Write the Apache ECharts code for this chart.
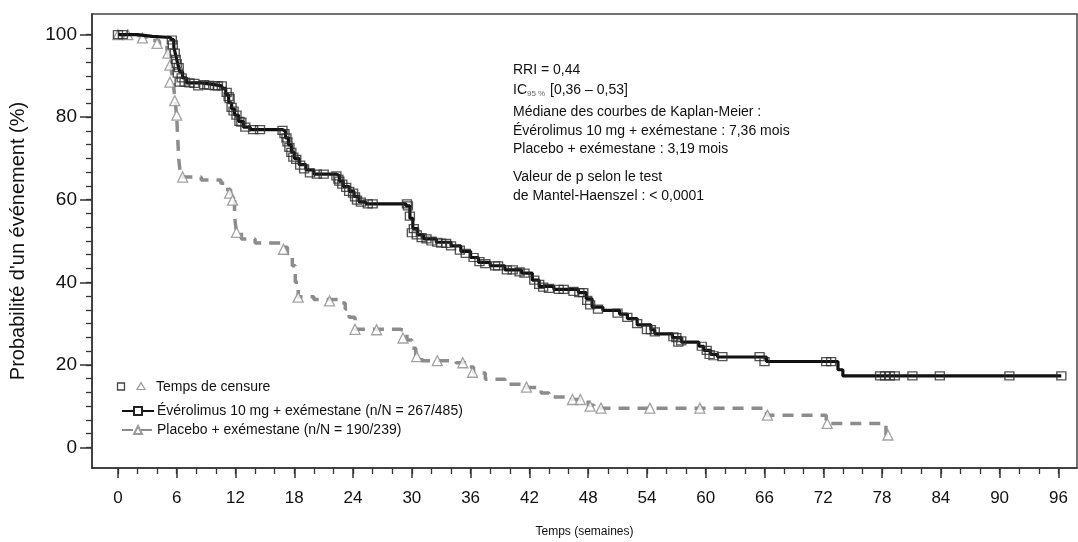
<!DOCTYPE html>
<html><head><meta charset="utf-8">
<script src="https://cdn.jsdelivr.net/npm/echarts@6/dist/echarts.min.js"></script>
<style>html,body{margin:0;padding:0;background:#fff}#c{width:1078px;height:542px}</style>
</head><body><div id="c"></div>
<script>
// ---- data ----
const xTicks = [0, 6, 12, 18, 24, 30, 36, 42, 48, 54, 60, 66, 72, 78, 84, 90, 96];
const xMinorTicks = [0, 2, 4, 6, 8, 10, 12, 14, 16, 18, 20, 22, 24, 26, 28, 30, 32, 34, 36, 38, 40, 42, 44, 46, 48, 50, 52, 54, 56, 58, 60, 62, 64, 66, 68, 70, 72, 74, 76, 78, 80, 82, 84, 86, 88, 90, 92, 94, 96];
const yTicks = [0, 20, 40, 60, 80, 100];
const yMinorTicks = [0, 3.33, 6.67, 10, 13.33, 16.67, 20, 23.33, 26.67, 30, 33.33, 36.67, 40, 43.33, 46.67, 50, 53.33, 56.67, 60, 63.33, 66.67, 70, 73.33, 76.67, 80, 83.33, 86.67, 90, 93.33, 96.67, 100];

const everoName = 'Évérolimus 10 mg + exémestane (n/N = 267/485)';
const placeboName = 'Placebo + exémestane (n/N = 190/239)';

// Kaplan-Meier steps [week, %]
const everoCurve = [[0,100],[2,99.6],[3.5,99.3],[5.4,98.8],[5.7,97],[5.9,95],[6.1,93],[6.3,91],[6.6,89.5],[7,88.3],[8.5,88],[9.5,87.6],[10.6,87],[11,85.5],[11.3,83.5],[11.6,82],[11.9,80.5],[12.3,79],[12.8,77.6],[13.5,77],[16.8,76.6],[17.1,75],[17.4,73.3],[17.7,71.5],[18,70],[18.5,68.5],[19.2,67.2],[20,66.2],[22.3,65.8],[22.6,64.5],[23,63.2],[23.6,62],[24.1,60.8],[24.6,59.5],[25.3,59],[29.4,58.5],[29.8,55.5],[30.1,53],[30.6,51.5],[31.2,50.5],[32.5,49.7],[34,48.8],[35,47.5],[36,46],[36.8,44.8],[38,44],[39.5,43],[41.2,42.2],[42.3,40.5],[43,39],[44.5,38.3],[47,37.5],[47.8,36],[48.4,34],[49.5,33.2],[51.2,32.3],[52,31.2],[53,29.7],[54.4,28.5],[54.8,27.5],[56.6,26.6],[57.5,25.5],[59.3,24.5],[59.8,23.5],[60.5,22.5],[61.2,21.9],[66.2,20.8],[73.5,18.8],[74,17.3],[96.3,17.3]];
const placeboCurve = [[0,100],[1.5,99.6],[2.5,99.2],[3.5,98.6],[4.2,97.9],[5,96.5],[5.2,94.5],[5.4,92],[5.6,89],[5.8,85],[6,80],[6.1,75],[6.2,70],[6.4,65.5],[8.5,64.8],[10.5,64],[11,62.5],[11.5,60],[11.9,56],[12.1,52],[12.6,50.5],[14,49.5],[16.8,48.5],[17.3,47],[17.8,44],[18.1,40],[18.4,36.5],[20,35.8],[22.5,35],[23.2,33.5],[23.6,31.5],[24.2,28.6],[28.8,28.2],[29.5,26],[30,24],[30.4,22],[31,21],[34.5,20.5],[35.8,19.5],[36.3,18],[37.5,16.5],[39.5,15.3],[41.5,14.5],[43.2,13.2],[44,12.2],[46.3,11.6],[48,10.2],[48.6,9.5],[66.2,7.8],[72.3,5.8],[78.4,3],[78.6,3]];

// censoring times [week, %]
const everoCensor = [[0,100],[0.5,100],[5.5,98.7],[5.6,97.5],[5.8,95.5],[5.9,94],[6,93],[6.1,90.7],[6.2,92],[6.3,88.5],[6.5,89.5],[6.8,88.5],[7.3,88.3],[7.8,88.2],[8.2,87.6],[8.8,87.9],[9.3,87.7],[9.9,87.6],[10.2,87.6],[10.6,87.6],[11.1,86],[11.3,85],[11.4,84.5],[11.6,82.4],[11.8,81.5],[12.1,80.5],[12.4,79],[12.6,78.8],[13,77.6],[13.8,77],[14.5,77],[16.8,76.8],[17,76],[17.2,75],[17.3,74],[17.5,72.7],[17.7,71.5],[17.9,70.3],[18.2,69.8],[18.6,68.4],[19,67.5],[19.6,66.5],[20.3,66.2],[21,66.2],[22.3,65.8],[22.5,65],[22.6,64.5],[22.9,63.8],[23.3,63],[23.6,62],[24,61.6],[24.2,60.7],[24.4,59.9],[24.8,59.4],[25.5,59],[26,59],[29.5,59],[29.6,58.5],[29.8,56],[30,52],[30.2,53],[30.5,51.5],[31,50.8],[31.5,50.5],[32,50],[32.6,49.7],[33,49.5],[33.5,49.4],[34,48.8],[34.9,47.8],[35.5,47],[36.3,46],[36.9,45],[37.5,44.5],[38.5,44],[38.8,44],[39.7,43],[40.3,43],[41,42.5],[41.5,42.2],[42.5,40.5],[43,39.5],[43.4,38.8],[44,38.5],[45,38.3],[45.5,38.3],[46.5,37.8],[47.1,37.5],[47.5,37.5],[47.9,35.6],[48.2,34.5],[49,33.5],[51,32.5],[52,31.5],[53,30],[54,28.5],[54.4,28.5],[54.8,28],[56.7,26.8],[57,26.6],[57.2,25.5],[57.5,25.8],[59.6,24.5],[60.1,23.5],[60.4,22.5],[60.8,22.2],[61.7,22],[65.5,22],[66,20.8],[72.3,20.8],[72.8,20.8],[77.8,17.3],[78.3,17.3],[78.8,17.3],[79.3,17.3],[81.1,17.3],[83.9,17.3],[91,17.3],[96.3,17.3]];
const placeboCensor = [[0,100],[1,100],[2.5,99.2],[4,97.9],[5.1,95.5],[5.3,92.6],[5.3,88.5],[5.8,84],[6,80.5],[6.6,65.5],[11.4,61.6],[11.7,59.9],[12.1,52.1],[16.9,48],[18.4,36.4],[21.6,35.5],[24.2,28.6],[26.4,28.5],[29.1,26.5],[30.5,22],[32.6,21],[35.2,20.5],[36.2,18.2],[41.7,14.6],[46.4,11.6],[47.2,11.6],[48.2,10],[49.3,9.5],[54.3,9.5],[59.4,9.5],[66.3,7.8],[72.4,5.8],[78.6,3]];

const annotation = [
  'RRI = 0,44',
  'Médiane des courbes de Kaplan-Meier :',
  'Évérolimus 10 mg + exémestane : 7,36 mois',
  'Placebo + exémestane : 3,19 mois',
  'Valeur de p selon le test',
  'de Mantel-Haenszel : < 0,0001'
];

// ---- chart ----
const FONT = '"Liberation Sans", Arial, sans-serif';
const chart = echarts.init(document.getElementById('c'), null, {renderer: 'canvas'});
const axisColor = '#333';
const xBase = {type: 'value', min: -2.65, max: 97.9, position: 'bottom', splitLine: {show: false}};
const yBase = {type: 'value', min: -5, max: 105, position: 'left', splitLine: {show: false}};

const txt = (x, y, text, size, color) => ({
  type: 'text', x: x, y: y, silent: true,
  style: {text: text, font: size + 'px ' + FONT, fill: color || '#111', verticalAlign: 'middle', align: 'left'}
});

chart.setOption({
  animation: false,
  backgroundColor: '#fff',
  grid: {left: 92, top: 14, right: 1, bottom: 74, show: true, borderColor: '#444', borderWidth: 1.5, backgroundColor: 'transparent', outerBoundsMode: 'none', containLabel: false},
  xAxis: [
    Object.assign({}, xBase, {
      axisLine: {show: true, onZero: false, lineStyle: {color: axisColor, width: 1.5}},
      axisTick: {show: true, customValues: xTicks, length: 10, lineStyle: {color: axisColor, width: 1.5}},
      axisLabel: {customValues: xTicks, margin: 22, fontSize: 17, color: '#111', fontFamily: FONT},
      name: 'Temps (semaines)', nameLocation: 'middle', nameGap: 58,
      nameTextStyle: {fontSize: 12, color: '#111', fontFamily: FONT}
    }),
    Object.assign({}, xBase, {
      axisLine: {show: false, onZero: false},
      axisTick: {show: true, customValues: xMinorTicks, length: 6, lineStyle: {color: axisColor, width: 1.3}},
      axisLabel: {show: false}
    })
  ],
  yAxis: [
    Object.assign({}, yBase, {
      axisLine: {show: true, onZero: false, lineStyle: {color: axisColor, width: 1.5}},
      axisTick: {show: true, customValues: yTicks, length: 12, lineStyle: {color: axisColor, width: 1.5}},
      axisLabel: {customValues: yTicks, margin: 15, fontSize: 19, color: '#111', fontFamily: FONT},
      name: "Probabilité d'un événement (%)", nameLocation: 'middle', nameGap: 64,
      nameTextStyle: {fontSize: 20, color: '#111', fontFamily: FONT}
    }),
    Object.assign({}, yBase, {
      axisLine: {show: false, onZero: false},
      axisTick: {show: true, customValues: yMinorTicks, length: 6, lineStyle: {color: axisColor, width: 1.3}},
      axisLabel: {show: false}
    })
  ],
  legend: {
    data: [everoName, placeboName],
    orient: 'vertical', left: 116, top: 399, itemWidth: 32, itemHeight: 10, itemGap: 5,
    textStyle: {fontSize: 14, color: '#111', fontFamily: FONT, padding: [0, 0, 0, -2]},
    selectedMode: false
  },
  series: [
    {
      name: placeboName, type: 'line', step: 'end', data: placeboCurve,
      symbol: 'emptyTriangle', showSymbol: false, z: 2,
      lineStyle: {color: '#8c8c8c', width: 3.5, type: [11, 8]},
      itemStyle: {color: '#9a9a9a'}
    },
    {
      name: 'placeboCensor', type: 'scatter', data: placeboCensor, z: 3,
      symbol: 'triangle', symbolSize: 10,
      itemStyle: {color: '#fff', borderColor: '#8c8c8c', borderWidth: 1.3}
    },
    {
      name: everoName, type: 'line', step: 'end', data: everoCurve,
      symbol: 'emptyRect', showSymbol: false, z: 4,
      lineStyle: {color: '#111', width: 3.2},
      itemStyle: {color: '#222'}
    },
    {
      name: 'everoCensor', type: 'scatter', data: everoCensor, z: 5,
      symbol: 'rect', symbolSize: [9, 8],
      itemStyle: {color: 'rgba(255,255,255,0)', borderColor: '#2a2a2a', borderWidth: 1.3}
    }
  ],
  graphic: [
    txt(513, 70, annotation[0], 14),
    txt(513, 90, 'IC', 14),
    txt(527, 94, '95 %', 8, '#666'),
    txt(550, 90, '[0,36 – 0,53]', 14),
    txt(513, 112, annotation[1], 14),
    txt(513, 131, annotation[2], 14),
    txt(513, 149, annotation[3], 14),
    txt(513, 177, annotation[4], 14),
    txt(513, 196, annotation[5], 14),
    {type: 'rect', shape: {x: 117.5, y: 383, width: 7, height: 7}, style: {fill: '#fff', stroke: '#444', lineWidth: 1.3}, silent: true},
    {type: 'polygon', shape: {points: [[141, 382.5], [145, 389.5], [137, 389.5]]}, style: {fill: '#fff', stroke: '#999', lineWidth: 1.2}, silent: true},
    txt(156, 387, 'Temps de censure', 14)
  ]
});
</script>
</body></html>
